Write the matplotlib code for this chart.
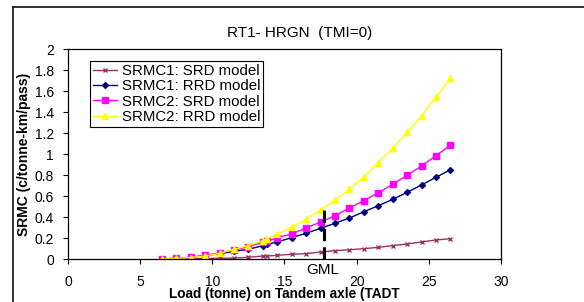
import matplotlib.pyplot as plt
from matplotlib.lines import Line2D

# load on tandem axle (tonne)
load = [6.5, 7.5, 8.5, 9.5, 10.5, 11.5, 12.5, 13.5, 13.8, 14.5, 15.5, 16.5,
        17.5, 18.5, 19.5, 20.5, 21.5, 22.5, 23.5, 24.5, 25.5, 26.5]

srmc1_srd = [0.001, 0.002, 0.004, 0.007, 0.010, 0.012, 0.019, 0.031, 0.031, 0.038, 0.048, 0.053,
             0.070, 0.082, 0.091, 0.101, 0.114, 0.130, 0.146, 0.165, 0.184, 0.196]
srmc1_rrd = [0.003, 0.009, 0.018, 0.035, 0.053, 0.076, 0.095, 0.130, 0.143, 0.165, 0.206, 0.248,
             0.295, 0.343, 0.393, 0.453, 0.510, 0.571, 0.638, 0.708, 0.781, 0.853]
srmc2_srd = [0.004, 0.010, 0.020, 0.038, 0.060, 0.089, 0.120, 0.162, 0.171, 0.206, 0.241, 0.298,
             0.355, 0.415, 0.489, 0.558, 0.634, 0.714, 0.800, 0.889, 0.987, 1.086]
srmc2_rrd = [0.003, 0.008, 0.017, 0.031, 0.057, 0.095, 0.130, 0.177, 0.196, 0.241, 0.305, 0.381,
             0.470, 0.562, 0.670, 0.781, 0.920, 1.057, 1.210, 1.365, 1.543, 1.724]

labels = ['SRMC1: SRD model', 'SRMC1: RRD model', 'SRMC2: SRD model', 'SRMC2: RRD model']

gml = 17.75
gml_top = 0.49

plt.rcParams['font.family'] = ['Liberation Sans', 'DejaVu Sans']

fig = plt.figure(figsize=(5.84, 3.02), dpi=100)
ax = fig.add_axes([0.1164, 0.1414, 0.7414, 0.6954])

ax.plot(load, srmc1_srd, color='#993366', marker='x', markersize=3.5, mew=1, lw=1, label=labels[0])
ax.plot(load, srmc1_rrd, color='#000080', marker='D', markersize=3, lw=1, label=labels[1])
ax.plot(load, srmc2_srd, color='#FF00FF', marker='s', markersize=4, lw=1, label=labels[2])
ax.plot(load, srmc2_rrd, color='#FFFF00', marker='^', markersize=5, lw=1, label=labels[3])

ax.plot([gml, gml], [0, gml_top], color='black', lw=2.2, ls=(0, (4, 2)))
ax.text(gml - 0.1, -0.035, 'GML', ha='center', va='top', fontsize=11)

ax.set_xlim(0, 30)
ax.set_ylim(0, 2)
ax.set_xticks(range(0, 31, 5))
ax.set_yticks([i / 10 for i in range(0, 21, 2)])
ax.set_yticklabels(['0', '0.2', '0.4', '0.6', '0.8', '1', '1.2', '1.4', '1.6', '1.8', '2'])
ax.tick_params(axis='x', direction='out', length=3.6, pad=7.5, labelsize=10)
ax.tick_params(axis='y', direction='out', length=3.6, pad=6.5, labelsize=10)
for s in ax.spines.values():
    s.set_linewidth(0.9)

ax.set_xlabel('Load (tonne) on Tandem axle (TADT', fontsize=9.8, fontweight='bold')
ax.xaxis.set_label_coords(0.5, -0.133)
ax.set_ylabel('SRMC (c/tonne-km/pass)', fontsize=10, fontweight='bold')
ax.yaxis.set_label_coords(-0.085, 0.5)

fig.text(300 / 584, 1 - 33 / 302, 'RT1- HRGN  (TMI=0)', ha='center', va='center', fontsize=11)

leg = ax.legend(loc='upper left', bbox_to_anchor=(0.051, 0.943), borderaxespad=0,
                fontsize=10.8, handlelength=1.6, handletextpad=0.3, labelspacing=0.08,
                borderpad=0.2, fancybox=False, framealpha=1, edgecolor='black')
leg.get_frame().set_linewidth(0.8)

# outer chart frame (clipped on right and bottom)
fig.add_artist(Line2D([13 / 584, 13 / 584], [0, 1 - 7 / 302], transform=fig.transFigure,
                      color='#222222', lw=1.3))
fig.add_artist(Line2D([13 / 584, 1], [1 - 7 / 302, 1 - 7 / 302], transform=fig.transFigure,
                      color='#222222', lw=1.3))

fig.savefig('out.png', dpi=100)
